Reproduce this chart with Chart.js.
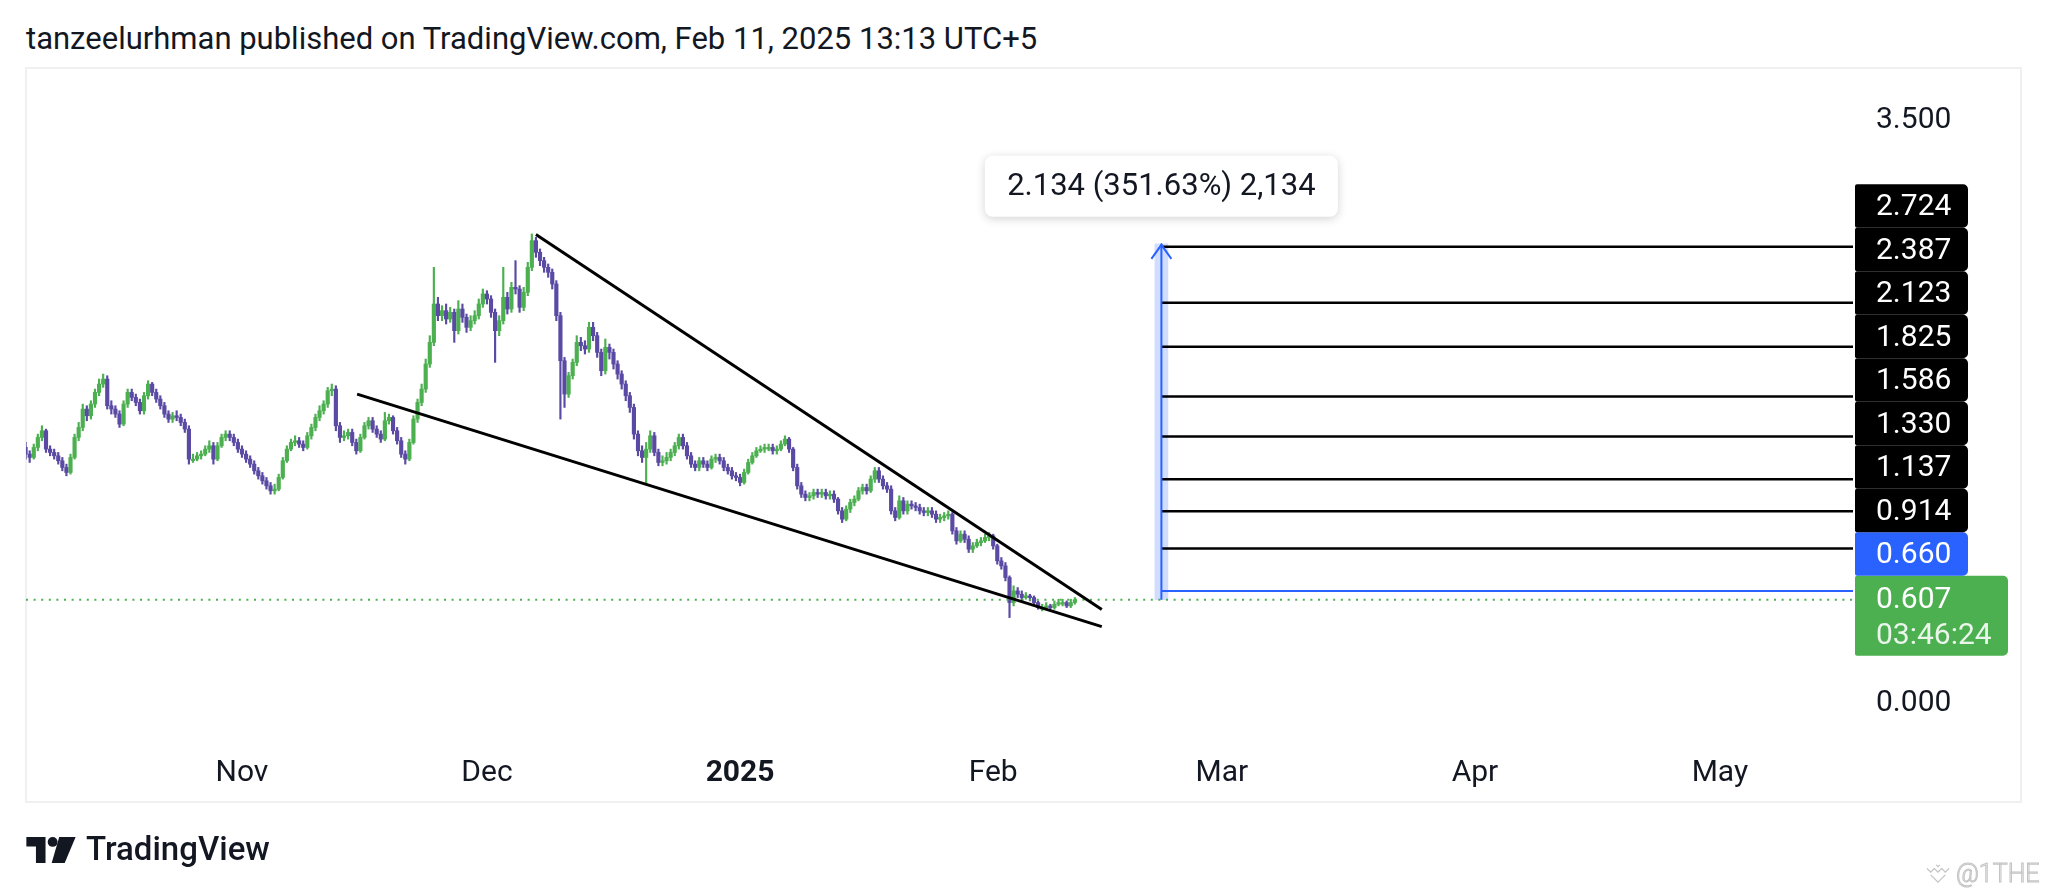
<!DOCTYPE html>
<html>
<head>
<meta charset="utf-8">
<script src="https://cdn.jsdelivr.net/npm/chart.js@4.4.1/dist/chart.umd.min.js"></script>
<style>
  html, body { margin: 0; padding: 0; background: #fff; width: 2048px; height: 895px; overflow: hidden; font-family: Roboto, sans-serif; }
  #title { position: absolute; left: 26px; top: 21px; font-size: 31px; line-height: 36px; color: #131722; white-space: nowrap; }
  #frame { position: absolute; left: 25px; top: 67px; width: 1993px; height: 732px; border: 2px solid #f0f0f0; }
  #chart { position: absolute; left: 0; top: 0; }
  #logo { position: absolute; left: 26px; top: 837px; }
  #brand { position: absolute; left: 86px; top: 830px; font-size: 33px; line-height: 38px; font-weight: 500; color: #131722; }
  #markIcon { position: absolute; left: 1925px; top: 863px; }
  #mark { position: absolute; left: 1956px; top: 860px; font-size: 25px; line-height: 28px; font-weight: 300; color: #f7f7f7; -webkit-text-stroke: 1px #c4c4c4; white-space: nowrap; }
</style>
</head>
<body>
<div id="title">tanzeelurhman published on TradingView.com, Feb 11, 2025 13:13 UTC+5</div>
<div id="frame"></div>
<canvas id="chart" width="2048" height="895"></canvas>
<svg id="logo" width="50" height="26" viewBox="0 0 36 19">
  <path d="M0 0h14v19H7V7H0z" fill="#131722"/>
  <circle cx="19.2" cy="3.6" r="3.6" fill="#131722"/>
  <path d="M24 0h12l-8 19h-9.5z" fill="#131722"/>
</svg>
<div id="brand">TradingView</div>
<svg id="markIcon" width="26" height="22" viewBox="0 0 28 24" fill="none" stroke="#c4c4c4" stroke-width="1.3">
  <path d="M2 6l4 4 4-4M10 6l4 4 4-4M18 6l4 4 4-4"/>
  <path d="M6 13l8 8 8-8"/>
  <path d="M12 2l2 2 2-2"/>
</svg>
<div id="mark">@1THE</div>
<script>
// time axis in days since 2024-10-01, one candle every 12 hours
const candleStartDay = 4.5;
const candleStepDays = 0.5;
const firstOpen = 1.52;

const closes = [
  1.48, 1.46, 1.52, 1.58, 1.62, 1.51, 1.49, 1.47, 1.44, 1.40,
  1.37, 1.46, 1.58, 1.64, 1.75, 1.71, 1.78, 1.85, 1.90, 1.93,
  1.77, 1.75, 1.72, 1.66, 1.78, 1.85, 1.82, 1.79, 1.74, 1.83,
  1.90, 1.85, 1.81, 1.77, 1.72, 1.69, 1.71, 1.70, 1.67, 1.63,
  1.45, 1.45, 1.47, 1.48, 1.51, 1.53, 1.45, 1.53, 1.58, 1.60,
  1.58, 1.55, 1.51, 1.48, 1.45, 1.42, 1.38, 1.35, 1.32, 1.29,
  1.26, 1.27, 1.34, 1.44, 1.51, 1.55, 1.56, 1.54, 1.52, 1.59,
  1.64, 1.70, 1.74, 1.78, 1.86, 1.87, 1.65, 1.58, 1.59, 1.61,
  1.55, 1.50, 1.58, 1.65, 1.68, 1.63, 1.60, 1.57, 1.68, 1.70,
  1.62, 1.56, 1.48, 1.45, 1.55, 1.69, 1.79, 1.87, 2.02, 2.15,
  2.38, 2.31, 2.34, 2.29, 2.33, 2.22, 2.35, 2.30, 2.24, 2.28,
  2.31, 2.38, 2.44, 2.41, 2.33, 2.22, 2.28, 2.42, 2.35, 2.48,
  2.47, 2.36, 2.45, 2.60, 2.76, 2.69, 2.64, 2.60, 2.57, 2.50,
  2.31, 2.04, 1.84, 1.95, 2.03, 2.15, 2.13, 2.11, 2.24, 2.19,
  2.09, 1.98, 2.12, 2.09, 2.02, 1.96, 1.90, 1.83, 1.76, 1.60,
  1.50, 1.46, 1.51, 1.59, 1.49, 1.43, 1.44, 1.46, 1.49, 1.53,
  1.58, 1.53, 1.47, 1.42, 1.40, 1.44, 1.42, 1.40, 1.45, 1.46,
  1.44, 1.40, 1.38, 1.35, 1.34, 1.31, 1.37, 1.43, 1.47, 1.50,
  1.51, 1.52, 1.52, 1.50, 1.51, 1.54, 1.57, 1.51, 1.40, 1.29,
  1.24, 1.22, 1.23, 1.25, 1.24, 1.25, 1.23, 1.24, 1.21, 1.14,
  1.09, 1.15, 1.19, 1.21, 1.26, 1.28, 1.26, 1.33, 1.38, 1.33,
  1.29, 1.27, 1.14, 1.10, 1.20, 1.14, 1.18, 1.17, 1.16, 1.14,
  1.13, 1.14, 1.12, 1.09, 1.10, 1.11, 1.12, 1.02, 0.96, 1.00,
  0.97, 0.91, 0.93, 0.95, 0.96, 0.98, 0.99, 0.93, 0.84, 0.81,
  0.74, 0.59, 0.66, 0.64, 0.62, 0.63, 0.62, 0.59, 0.56, 0.56,
  0.57, 0.56, 0.58, 0.59, 0.59, 0.57, 0.59, 0.607
];

const highs = [
  1.55, 1.50, 1.54, 1.60, 1.65, 1.63, 1.53, 1.51, 1.49, 1.46,
  1.42, 1.48, 1.60, 1.67, 1.78, 1.77, 1.80, 1.87, 1.93, 1.96,
  1.95, 1.80, 1.77, 1.74, 1.80, 1.87, 1.87, 1.84, 1.81, 1.85,
  1.92, 1.91, 1.87, 1.83, 1.79, 1.74, 1.73, 1.74, 1.72, 1.69,
  1.65, 1.48, 1.49, 1.50, 1.53, 1.56, 1.55, 1.55, 1.60, 1.62,
  1.62, 1.60, 1.57, 1.53, 1.50, 1.47, 1.44, 1.40, 1.37, 1.34,
  1.31, 1.30, 1.36, 1.46, 1.53, 1.57, 1.59, 1.58, 1.56, 1.61,
  1.66, 1.72, 1.77, 1.80, 1.88, 1.90, 1.89, 1.67, 1.62, 1.63,
  1.63, 1.57, 1.60, 1.67, 1.70, 1.70, 1.65, 1.62, 1.73, 1.72,
  1.71, 1.64, 1.58, 1.50, 1.57, 1.71, 1.81, 1.90, 2.05, 2.19,
  2.60, 2.42, 2.37, 2.38, 2.36, 2.35, 2.40, 2.38, 2.32, 2.31,
  2.34, 2.41, 2.47, 2.46, 2.43, 2.35, 2.31, 2.60, 2.45, 2.51,
  2.64, 2.49, 2.48, 2.63, 2.80, 2.78, 2.71, 2.66, 2.62, 2.59,
  2.52, 2.33, 2.06, 1.97, 2.05, 2.19, 2.18, 2.16, 2.27, 2.27,
  2.21, 2.11, 2.17, 2.14, 2.11, 2.04, 1.98, 1.92, 1.85, 1.78,
  1.62, 1.53, 1.55, 1.62, 1.61, 1.51, 1.47, 1.49, 1.51, 1.55,
  1.60, 1.60, 1.55, 1.49, 1.44, 1.46, 1.46, 1.44, 1.47, 1.48,
  1.48, 1.46, 1.42, 1.40, 1.37, 1.36, 1.39, 1.45, 1.49, 1.52,
  1.53, 1.54, 1.54, 1.54, 1.53, 1.56, 1.59, 1.58, 1.52, 1.42,
  1.31, 1.26, 1.25, 1.27, 1.27, 1.27, 1.27, 1.26, 1.26, 1.22,
  1.16, 1.17, 1.21, 1.23, 1.28, 1.30, 1.30, 1.35, 1.40, 1.40,
  1.35, 1.31, 1.29, 1.16, 1.23, 1.22, 1.20, 1.20, 1.19, 1.18,
  1.16, 1.16, 1.16, 1.14, 1.12, 1.13, 1.14, 1.13, 1.04, 1.02,
  1.02, 0.99, 0.95, 0.97, 0.98, 1.00, 1.01, 1.00, 0.94, 0.86,
  0.83, 0.75, 0.69, 0.68, 0.66, 0.65, 0.64, 0.63, 0.60, 0.58,
  0.59, 0.58, 0.60, 0.61, 0.61, 0.60, 0.61, 0.62
];

const lows = [
  1.45, 1.43, 1.45, 1.50, 1.56, 1.49, 1.47, 1.45, 1.42, 1.38,
  1.35, 1.36, 1.45, 1.56, 1.62, 1.68, 1.69, 1.76, 1.83, 1.88,
  1.75, 1.72, 1.70, 1.64, 1.65, 1.76, 1.80, 1.77, 1.72, 1.72,
  1.81, 1.83, 1.79, 1.75, 1.70, 1.67, 1.67, 1.68, 1.65, 1.61,
  1.42, 1.43, 1.44, 1.45, 1.47, 1.49, 1.42, 1.44, 1.52, 1.56,
  1.56, 1.53, 1.49, 1.46, 1.43, 1.40, 1.36, 1.33, 1.30, 1.27,
  1.24, 1.24, 1.26, 1.33, 1.43, 1.50, 1.53, 1.52, 1.50, 1.51,
  1.57, 1.62, 1.68, 1.72, 1.76, 1.83, 1.62, 1.55, 1.56, 1.57,
  1.53, 1.48, 1.49, 1.57, 1.63, 1.61, 1.58, 1.55, 1.56, 1.66,
  1.60, 1.54, 1.46, 1.42, 1.44, 1.54, 1.67, 1.77, 1.85, 2.00,
  2.13, 2.28, 2.28, 2.26, 2.27, 2.15, 2.20, 2.27, 2.21, 2.22,
  2.26, 2.29, 2.36, 2.38, 2.30, 2.03, 2.19, 2.26, 2.32, 2.33,
  2.44, 2.33, 2.34, 2.43, 2.58, 2.66, 2.61, 2.57, 2.54, 2.47,
  2.28, 1.69, 1.76, 1.82, 1.93, 2.01, 2.10, 2.08, 2.09, 2.16,
  2.06, 1.95, 1.96, 2.05, 1.99, 1.93, 1.87, 1.80, 1.73, 1.57,
  1.47, 1.43, 1.30, 1.49, 1.47, 1.41, 1.41, 1.42, 1.44, 1.47,
  1.51, 1.51, 1.45, 1.40, 1.38, 1.38, 1.40, 1.38, 1.39, 1.43,
  1.42, 1.38, 1.36, 1.33, 1.32, 1.29, 1.30, 1.36, 1.42, 1.46,
  1.49, 1.49, 1.50, 1.48, 1.48, 1.50, 1.53, 1.49, 1.38, 1.27,
  1.22, 1.20, 1.20, 1.21, 1.22, 1.22, 1.21, 1.21, 1.19, 1.12,
  1.07, 1.08, 1.13, 1.17, 1.20, 1.24, 1.24, 1.25, 1.31, 1.31,
  1.27, 1.25, 1.12, 1.08, 1.09, 1.12, 1.12, 1.15, 1.14, 1.12,
  1.11, 1.11, 1.10, 1.07, 1.07, 1.08, 1.09, 1.00, 0.94, 0.95,
  0.95, 0.89, 0.89, 0.92, 0.93, 0.95, 0.96, 0.91, 0.82, 0.79,
  0.72, 0.50, 0.57, 0.62, 0.60, 0.61, 0.60, 0.58, 0.55, 0.54,
  0.55, 0.55, 0.55, 0.57, 0.57, 0.56, 0.56, 0.58
];

// axis ticks
const monthTickDays = [31, 61, 92, 123, 151, 182, 212];
const monthTickLabels = ['Nov', 'Dec', '2025', 'Feb', 'Mar', 'Apr', 'May'];
const priceTicks = [0, 3.5];

// falling wedge trendlines (day, price)
const upperLineDays = [67.0, 136.3];
const upperLinePrices = [2.796, 0.548];
const lowerLineDays = [45.1, 136.3];
const lowerLinePrices = [1.840, 0.446];

// price range tool + target levels
const rangeDay = 143.6;
const rangeFrom = 0.607;
const rangeTo = 2.741;
const rangeText = '2.134 (351.63%) 2,134';
const targetLevels = [2.724, 2.387, 2.123, 1.825, 1.586, 1.330, 1.137, 0.914];
const entryLevel = 0.660;
const lastPrice = 0.607;
const countdown = '03:46:24';

const xMin = 4.55, xMax = 228.3;
const yMin = -0.222, yMax = 3.795;

const upColor = '#4caf50';
const downColor = '#5a4aa4';
const textColor = '#131722';

const candleDays = closes.map((c, i) => candleStartDay + i * candleStepDays);
const opens = closes.map((c, i) => i === 0 ? firstOpen : closes[i - 1]);
const candleColor = ctx => closes[ctx.dataIndex] >= opens[ctx.dataIndex] ? upColor : downColor;

function hLine(value, from, to, color, width, dash) {
  return {
    type: 'line',
    data: [{ x: from, y: value }, { x: to, y: value }],
    borderColor: color,
    borderWidth: width,
    borderDash: dash || [],
    pointRadius: 0,
    tension: 0,
    order: 1
  };
}

function segment(days, prices) {
  return {
    type: 'line',
    data: days.map((d, i) => ({ x: d, y: prices[i] })),
    borderColor: '#000000',
    borderWidth: 3,
    pointRadius: 0,
    tension: 0,
    order: 0
  };
}

const datasets = [
  {
    type: 'bar',
    data: [{ x: rangeDay, y: [rangeFrom, rangeTo] }],
    backgroundColor: 'rgba(41, 98, 255, 0.22)',
    barThickness: 13,
    grouped: false,
    order: 5
  },
  hLine(lastPrice, xMin, xMax, upColor, 2, [2, 5.6]),
  {
    type: 'bar',
    data: candleDays.map((d, i) => ({ x: d, y: [lows[i], highs[i]] })),
    backgroundColor: candleColor,
    barThickness: 1.5,
    grouped: false,
    order: 3
  },
  {
    type: 'bar',
    data: candleDays.map((d, i) => ({ x: d, y: [opens[i], closes[i]] })),
    backgroundColor: candleColor,
    barThickness: 3.5,
    minBarLength: 1.5,
    grouped: false,
    order: 2
  },
  segment(upperLineDays, upperLinePrices),
  segment(lowerLineDays, lowerLinePrices),
  ...targetLevels.map(v => hLine(v, rangeDay, xMax, '#000000', 2.5)),
  hLine(entryLevel, rangeDay, xMax, '#2962ff', 2),
  {
    type: 'line',
    data: [{ x: rangeDay, y: rangeFrom }, { x: rangeDay, y: rangeTo }],
    borderColor: '#2962ff',
    borderWidth: 2,
    pointRadius: 0,
    order: 0
  }
];

function roundBox(ctx, x, y, w, h, r) {
  ctx.beginPath();
  ctx.roundRect(x, y, w, h, r);
  ctx.fill();
}

const overlays = {
  id: 'overlays',
  afterDatasetsDraw(chart) {
    const { ctx, scales: { x, y } } = chart;
    const ax = x.getPixelForValue(rangeDay);
    const top = y.getPixelForValue(rangeTo);
    ctx.save();
    ctx.strokeStyle = '#2962ff';
    ctx.lineWidth = 2;
    ctx.beginPath();
    ctx.moveTo(ax - 10, top + 15);
    ctx.lineTo(ax, top + 1);
    ctx.lineTo(ax + 10, top + 15);
    ctx.stroke();
    ctx.restore();
  },
  afterDraw(chart) {
    const { ctx, scales: { x, y }, chartArea } = chart;
    ctx.save();

    // range tool label
    const ax = x.getPixelForValue(rangeDay);
    const top = y.getPixelForValue(rangeTo);
    const bw = 353, bh = 61;
    const bx = ax - bw / 2, by = top - 27 - bh;
    ctx.shadowColor = 'rgba(0,0,0,0.18)';
    ctx.shadowBlur = 10;
    ctx.shadowOffsetY = 2;
    ctx.fillStyle = '#ffffff';
    roundBox(ctx, bx, by, bw, bh, 8);
    ctx.shadowColor = 'transparent';
    ctx.fillStyle = textColor;
    ctx.font = '31px Roboto';
    ctx.textAlign = 'center';
    ctx.textBaseline = 'middle';
    ctx.fillText(rangeText, ax, by + bh / 2 + 1);

    // price scale labels, stacked upward from the last price
    const left = chartArea.right + 2;
    const lastY = y.getPixelForValue(lastPrice);
    const greenTop = lastY - 24;
    ctx.font = '30px Roboto';
    ctx.textAlign = 'left';
    ctx.fillStyle = upColor;
    roundBox(ctx, left, greenTop, 153, 80, [2, 5, 5, 2]);
    ctx.fillStyle = '#ffffff';
    ctx.fillText(lastPrice.toFixed(3), left + 21, lastY + 1);
    ctx.fillStyle = 'rgba(255,255,255,0.88)';
    ctx.fillText(countdown, left + 21, lastY + 37);

    const tags = [{ v: entryLevel, bg: '#2962ff' }]
      .concat(targetLevels.slice().sort((a, b) => a - b).map(v => ({ v, bg: '#000000' })));
    const bhTag = 43.5;
    let limit = greenTop;
    tags.forEach(t => {
      const cy = Math.min(y.getPixelForValue(t.v), limit - bhTag / 2);
      ctx.fillStyle = t.bg;
      roundBox(ctx, left, cy - bhTag / 2, 113, bhTag, [2, 5, 5, 2]);
      ctx.fillStyle = '#ffffff';
      ctx.fillText(t.v.toFixed(3), left + 21, cy + 2);
      limit = cy - bhTag / 2;
    });
    ctx.restore();
  }
};

Chart.defaults.font.family = 'Roboto';
Chart.defaults.color = textColor;

new Chart(document.getElementById('chart'), {
  type: 'bar',
  data: { datasets },
  options: {
    responsive: false,
    devicePixelRatio: 1,
    animation: false,
    layout: { padding: { left: 26, top: 68, right: 26, bottom: 92 } },
    plugins: { legend: { display: false }, tooltip: { enabled: false } },
    scales: {
      x: {
        type: 'linear',
        min: xMin,
        max: xMax,
        offset: false,
        grid: { display: false, drawTicks: false, offset: false },
        border: { display: false },
        afterFit: s => { s.height = 65; },
        afterBuildTicks: s => { s.ticks = monthTickDays.map(v => ({ value: v })); },
        ticks: {
          autoSkip: false,
          maxRotation: 0,
          padding: 17,
          color: textColor,
          font: ctx => ({ family: 'Roboto', size: 30, weight: ctx.index === 2 ? 'bold' : 'normal' }),
          callback: (v, i) => monthTickLabels[i]
        }
      },
      y: {
        type: 'linear',
        position: 'right',
        min: yMin,
        max: yMax,
        grid: { display: false, drawTicks: false },
        border: { display: false },
        afterFit: s => { s.width = 169; },
        afterBuildTicks: s => { s.ticks = priceTicks.map(v => ({ value: v })); },
        ticks: {
          padding: 23,
          labelOffset: 3,
          color: textColor,
          font: { family: 'Roboto', size: 30 },
          callback: v => v.toFixed(3)
        }
      }
    }
  },
  plugins: [overlays]
});
</script>
</body>
</html>
